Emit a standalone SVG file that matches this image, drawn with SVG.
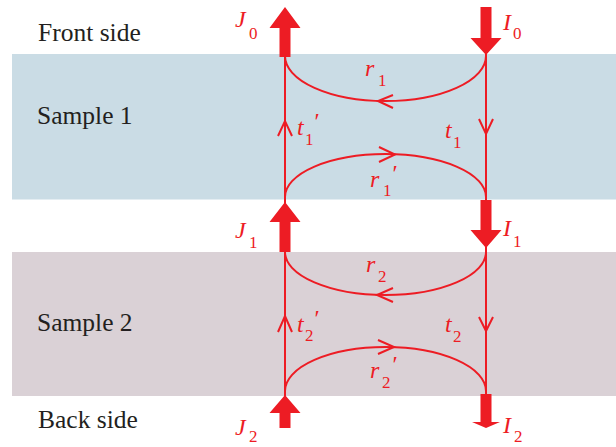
<svg xmlns="http://www.w3.org/2000/svg" width="616" height="447" viewBox="0 0 616 447">
<style>
text{font-family:"Liberation Serif","DejaVu Serif",serif}
.lbl{font-size:25.5px;fill:#231f20}
.m{font-style:italic;font-size:24px;fill:#ed1c24}
.s{font-size:17px;fill:#ed1c24}
.ln{fill:none;stroke:#ed1c24;stroke-width:2}
.big{fill:#ed1c24}
</style>
<g id="bands">
<rect x="12" y="54" width="604" height="145.5" fill="#cadce5"/>
<rect x="12" y="252" width="604" height="144" fill="#dad1d6"/>
</g>
<g id="side-labels">
<text class="lbl" x="38" y="41">Front side</text>
<text class="lbl" x="37" y="124">Sample 1</text>
<text class="lbl" x="37" y="331">Sample 2</text>
<text class="lbl" x="38" y="428">Back side</text>
</g>
<g id="connectors">
<line class="ln" x1="285" y1="56" x2="285" y2="400"/>
<line class="ln" x1="486" y1="50" x2="486" y2="396"/>
<path class="ln" d="M285,56 A100.5,45 0 0,0 486,56"/>
<path class="ln" d="M285,197 A100.5,43 0 0,1 486,197"/>
<path class="ln" d="M285,252 A100.5,43 0 0,0 486,252"/>
<path class="ln" d="M285,391 A100.5,44 0 0,1 486,391"/>
<polyline class="ln" points="393,95 378,101 393,108"/>
<polyline class="ln" points="379,147 395,154.5 379,162"/>
<polyline class="ln" points="278,136 285,121 292,136"/>
<polyline class="ln" points="479,119 486,134 493,119"/>
<polyline class="ln" points="393,288 377,295 393,302"/>
<polyline class="ln" points="378,340 394,347 378,354"/>
<polyline class="ln" points="278,332 285,316 292,332"/>
<polyline class="ln" points="479,317 486,331 493,317"/>
</g>
<g id="J0"><polygon class="big" points="279.5,57 290.5,57 290.5,28 300.5,28 285,7 269.5,28 279.5,28"/>
<text class="m" x="235" y="27">J</text><text class="s" x="249" y="39">0</text></g>
<g id="I0"><polygon class="big" points="480.5,7 491.5,7 491.5,38 501.5,38 486,55 470.5,38 480.5,38"/>
<text class="m" x="503" y="30">I</text><text class="s" x="513" y="39">0</text></g>
<g id="J1"><polygon class="big" points="279.5,252 290.5,252 290.5,222 300.5,222 285,202 269.5,222 279.5,222"/>
<text class="m" x="235" y="238">J</text><text class="s" x="249" y="248">1</text></g>
<g id="I1"><polygon class="big" points="480.5,200 491.5,200 491.5,230 501.5,230 486,248 470.5,230 480.5,230"/>
<text class="m" x="503" y="236">I</text><text class="s" x="513" y="247">1</text></g>
<g id="J2"><polygon class="big" points="279.5,428 290.5,428 290.5,413 300.5,413 285,395 269.5,413 279.5,413"/>
<text class="m" x="235" y="435">J</text><text class="s" x="249" y="442">2</text></g>
<g id="I2"><polygon class="big" points="480.5,394 491.5,394 491.5,422 500,422 486,428 472,422 480.5,422"/>
<text class="m" x="503" y="433">I</text><text class="s" x="514" y="442">2</text></g>
<g id="r1"><text class="m" x="365" y="76">r</text><text class="s" x="378" y="86">1</text></g>
<g id="t1p"><text class="m" x="297" y="135">t</text><text class="s" x="305" y="145">1</text><text class="m" x="313" y="129">′</text></g>
<g id="t1"><text class="m" x="445" y="138">t</text><text class="s" x="453" y="148">1</text></g>
<g id="r1p"><text class="m" x="370" y="187">r</text><text class="s" x="383" y="196">1</text><text class="m" x="391" y="181">′</text></g>
<g id="r2"><text class="m" x="366" y="272">r</text><text class="s" x="378" y="282">2</text></g>
<g id="t2p"><text class="m" x="297" y="332">t</text><text class="s" x="305" y="341">2</text><text class="m" x="313" y="326">′</text></g>
<g id="t2"><text class="m" x="445" y="332">t</text><text class="s" x="453" y="342">2</text></g>
<g id="r2p"><text class="m" x="370" y="378">r</text><text class="s" x="382" y="388">2</text><text class="m" x="391" y="372">′</text></g>
</svg>
